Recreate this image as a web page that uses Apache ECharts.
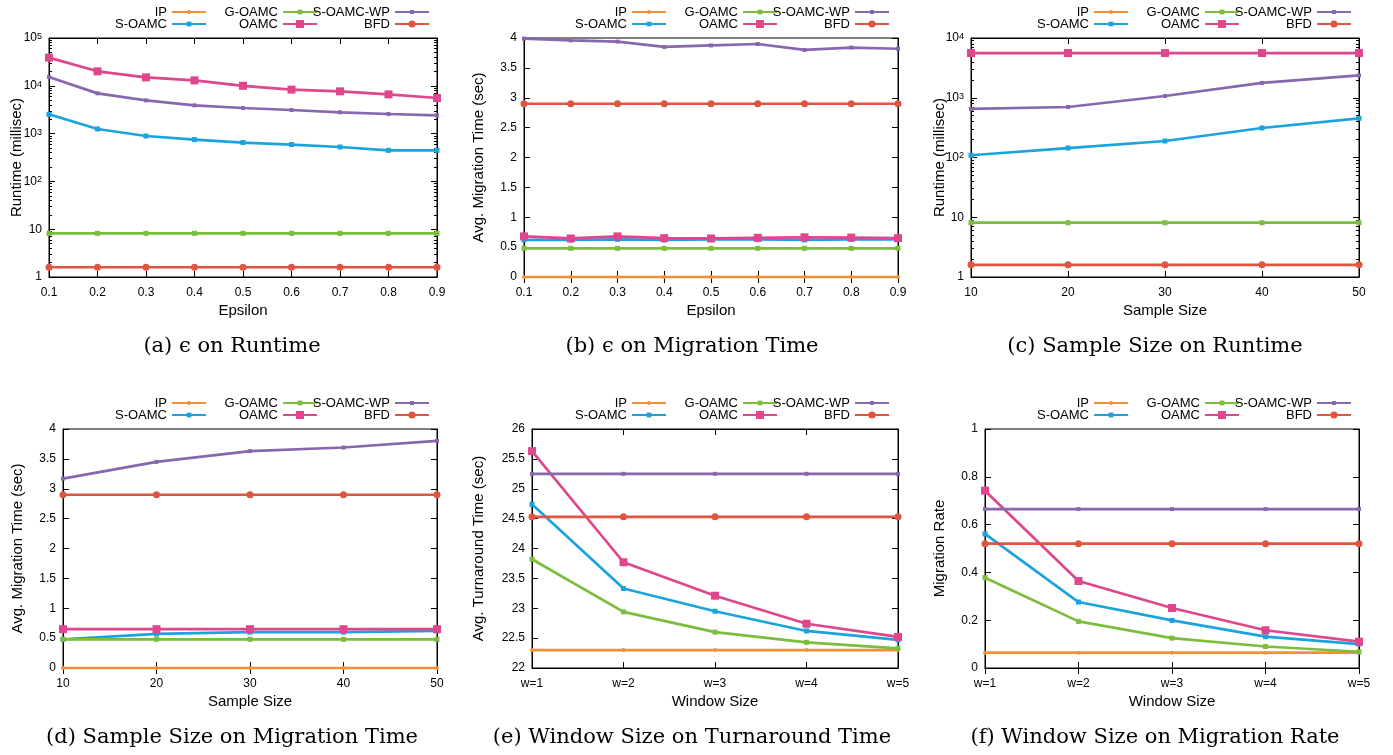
<!DOCTYPE html>
<html>
<head>
<meta charset="utf-8">
<script src="https://cdn.jsdelivr.net/npm/echarts@6/dist/echarts.min.js"></script>
<style>
  html, body { margin: 0; padding: 0; background: #fff; }
  #chart { width: 1393px; height: 755px; }
</style>
</head>
<body>
<div id="chart"></div>
<script>
// categories
const epsilon = ['0.1', '0.2', '0.3', '0.4', '0.5', '0.6', '0.7', '0.8', '0.9'];
const sampleSize = ['10', '20', '30', '40', '50'];
const windowSize = ['w=1', 'w=2', 'w=3', 'w=4', 'w=5'];

// (a) epsilon on runtime (millisec, log scale) - IP is not drawn here
const rtEpsIP = [null, null, null, null, null, null, null, null, null];
const rtEpsSOAMC = [2530, 1250, 890, 750, 650, 590, 525, 446, 446];
const rtEpsGOAMC = [8.2, 8.2, 8.2, 8.2, 8.2, 8.2, 8.2, 8.2, 8.2];
const rtEpsOAMC = [38800, 20100, 15000, 13000, 10000, 8330, 7660, 6620, 5560];
const rtEpsSOAMCWP = [15300, 6950, 4960, 3900, 3430, 3120, 2790, 2570, 2410];
const rtEpsBFD = [1.6, 1.6, 1.6, 1.6, 1.6, 1.6, 1.6, 1.6, 1.6];

// (b) epsilon on migration time (sec)
const mtEpsIP = [0, 0, 0, 0, 0, 0, 0, 0, 0];
const mtEpsSOAMC = [0.62, 0.62, 0.63, 0.62, 0.63, 0.63, 0.62, 0.63, 0.63];
const mtEpsGOAMC = [0.48, 0.48, 0.48, 0.48, 0.48, 0.48, 0.48, 0.48, 0.48];
const mtEpsOAMC = [0.68, 0.645, 0.68, 0.65, 0.645, 0.655, 0.665, 0.66, 0.65];
const mtEpsSOAMCWP = [3.99, 3.96, 3.94, 3.85, 3.875, 3.9, 3.8, 3.84, 3.82];
const mtEpsBFD = [2.9, 2.9, 2.9, 2.9, 2.9, 2.9, 2.9, 2.9, 2.9];

// (c) sample size on runtime (millisec, log scale)
const rtSmpIP = [null, null, null, null, null];
const rtSmpSOAMC = [109, 144, 189, 312, 453];
const rtSmpGOAMC = [8.1, 8.1, 8.1, 8.1, 8.1];
const rtSmpOAMC = [5600, 5600, 5600, 5600, 5600];
const rtSmpSOAMCWP = [649, 700, 1070, 1770, 2370];
const rtSmpBFD = [1.6, 1.6, 1.6, 1.6, 1.6];

// (d) sample size on migration time (sec)
const mtSmpIP = [0, 0, 0, 0, 0];
const mtSmpSOAMC = [0.48, 0.57, 0.6, 0.6, 0.62];
const mtSmpGOAMC = [0.48, 0.48, 0.48, 0.48, 0.48];
const mtSmpOAMC = [0.65, 0.65, 0.65, 0.65, 0.65];
const mtSmpSOAMCWP = [3.17, 3.45, 3.63, 3.69, 3.8];
const mtSmpBFD = [2.9, 2.9, 2.9, 2.9, 2.9];

// (e) window size on turnaround time (sec)
const ttWinIP = [22.3, 22.3, 22.3, 22.3, 22.3];
const ttWinSOAMC = [24.74, 23.33, 22.95, 22.62, 22.47];
const ttWinGOAMC = [23.82, 22.94, 22.6, 22.43, 22.33];
const ttWinOAMC = [25.63, 23.77, 23.21, 22.74, 22.52];
const ttWinSOAMCWP = [25.25, 25.25, 25.25, 25.25, 25.25];
const ttWinBFD = [24.53, 24.53, 24.53, 24.53, 24.53];

// (f) window size on migration rate
const mrWinIP = [0.064, 0.064, 0.064, 0.064, 0.064];
const mrWinSOAMC = [0.561, 0.276, 0.199, 0.131, 0.1];
const mrWinGOAMC = [0.378, 0.195, 0.125, 0.09, 0.068];
const mrWinOAMC = [0.742, 0.364, 0.251, 0.158, 0.11];
const mrWinSOAMCWP = [0.665, 0.665, 0.665, 0.665, 0.665];
const mrWinBFD = [0.52, 0.52, 0.52, 0.52, 0.52];

const FONT = '"Liberation Sans", Arial, sans-serif';

// plot order follows the key (column by column)
const names = ['IP', 'S-OAMC', 'G-OAMC', 'OAMC', 'S-OAMC-WP', 'BFD'];
const look = {
  'IP':        { color: '#f0913a', symbol: 'circle', size: 4, key: 5 },
  'S-OAMC':    { color: '#1ba3dd', symbol: 'rect',   size: 5, key: 6 },
  'G-OAMC':    { color: '#7bbd3c', symbol: 'rect',   size: 5, key: 6 },
  'OAMC':      { color: '#e0468b', symbol: 'rect',   size: 8, key: 10 },
  'S-OAMC-WP': { color: '#8767ae', symbol: 'rect',   size: 4, key: 5 },
  'BFD':       { color: '#e0553f', symbol: 'circle', size: 7, key: 9 }
};
// key slots: [column, row]
const keySlot = { 'IP': [0, 0], 'S-OAMC': [0, 1], 'G-OAMC': [1, 0], 'OAMC': [1, 1], 'S-OAMC-WP': [2, 0], 'BFD': [2, 1] };

const panels = [
  { cats: epsilon, xName: 'Epsilon', yName: 'Runtime (millisec)', log: true, max: 1e5,
    grid: [49, 38, 388], nameGap: 25, ox: 0, oy: 0, caption: '(a) \u03f5 on Runtime', cx: 232,
    data: [rtEpsIP, rtEpsSOAMC, rtEpsGOAMC, rtEpsOAMC, rtEpsSOAMCWP, rtEpsBFD] },
  { cats: epsilon, xName: 'Epsilon', yName: 'Avg. Migration Time (sec)', min: 0, max: 4, interval: 0.5,
    grid: [524, 38, 374], nameGap: 38, ox: 460, oy: 0, caption: '(b) \u03f5 on Migration Time', cx: 692,
    data: [mtEpsIP, mtEpsSOAMC, mtEpsGOAMC, mtEpsOAMC, mtEpsSOAMCWP, mtEpsBFD] },
  { cats: sampleSize, xName: 'Sample Size', yName: 'Runtime (millisec)', log: true, max: 1e4,
    grid: [971, 38, 388], nameGap: 24, ox: 922, oy: 0, caption: '(c) Sample Size on Runtime', cx: 1155,
    data: [rtSmpIP, rtSmpSOAMC, rtSmpGOAMC, rtSmpOAMC, rtSmpSOAMCWP, rtSmpBFD] },
  { cats: sampleSize, xName: 'Sample Size', yName: 'Avg. Migration Time (sec)', min: 0, max: 4, interval: 0.5,
    grid: [63, 429, 374], nameGap: 38, ox: 0, oy: 391, caption: '(d) Sample Size on Migration Time', cx: 232,
    data: [mtSmpIP, mtSmpSOAMC, mtSmpGOAMC, mtSmpOAMC, mtSmpSOAMCWP, mtSmpBFD] },
  { cats: windowSize, xName: 'Window Size', yName: 'Avg. Turnaround Time (sec)', min: 22, max: 26, interval: 0.5,
    grid: [532, 429, 366], nameGap: 46, ox: 460, oy: 391, caption: '(e) Window Size on Turnaround Time', cx: 692,
    data: [ttWinIP, ttWinSOAMC, ttWinGOAMC, ttWinOAMC, ttWinSOAMCWP, ttWinBFD] },
  { cats: windowSize, xName: 'Window Size', yName: 'Migration Rate', min: 0, max: 1, interval: 0.2,
    grid: [985, 429, 374], nameGap: 38, ox: 922, oy: 391, caption: '(f) Window Size on Migration Rate', cx: 1155,
    data: [mrWinIP, mrWinSOAMC, mrWinGOAMC, mrWinOAMC, mrWinSOAMCWP, mrWinBFD] }
];

function logLabel(v) {
  const e = Math.round(Math.log10(v));
  if (e === 0) return '1';
  if (e === 1) return '10';
  return '10{sup|' + e + '}';
}

const grids = [], xAxes = [], yAxes = [], series = [], legends = [], texts = [];
const tick = { show: true, inside: true, length: 6, lineStyle: { color: '#000', width: 1 } };
const line = { show: true, lineStyle: { color: '#000', width: 1 } };

panels.forEach((p, i) => {
  grids.push({ left: p.grid[0], top: p.grid[1], width: p.grid[2], height: 239,
    show: true, borderColor: '#000', borderWidth: 1, backgroundColor: 'transparent' });

  xAxes.push({
    gridIndex: i, type: 'category', data: p.cats, boundaryGap: false, position: 'bottom',
    axisLine: line, axisTick: tick, splitLine: { show: false },
    axisLabel: { color: '#000', fontSize: 12, fontFamily: FONT, margin: 10, interval: 0 },
    name: p.xName, nameLocation: 'middle', nameGap: 26, nameMoveOverlap: false,
    nameTextStyle: { color: '#000', fontSize: 15, fontFamily: FONT }
  });
  xAxes.push({
    gridIndex: i, type: 'category', data: p.cats, boundaryGap: false, position: 'top',
    axisLine: line, axisTick: tick, axisLabel: { show: false }, splitLine: { show: false }
  });

  const yBase = p.log
    ? { type: 'log', logBase: 10, min: 1, max: p.max,
        minorTick: { show: true, splitNumber: 9, length: 3, lineStyle: { color: '#000' } } }
    : { type: 'value', min: p.min, max: p.max, interval: p.interval };
  yAxes.push(Object.assign({}, yBase, {
    gridIndex: i, position: 'left',
    axisLine: line, axisTick: tick, splitLine: { show: false },
    axisLabel: {
      color: '#000', fontSize: 12, fontFamily: FONT, margin: 7,
      formatter: p.log ? logLabel : null,
      rich: { sup: { fontSize: 9, fontFamily: FONT, color: '#000', verticalAlign: 'top', lineHeight: 9 } }
    },
    name: p.yName, nameLocation: 'middle', nameGap: p.nameGap, nameMoveOverlap: false,
    nameTextStyle: { color: '#000', fontSize: 15, fontFamily: FONT }
  }));
  yAxes.push(Object.assign({}, yBase, {
    gridIndex: i, position: 'right',
    axisLine: line, axisTick: tick, axisLabel: { show: false }, splitLine: { show: false }
  }));

  names.forEach((n, k) => {
    const s = look[n];
    series.push({
      type: 'line', name: n, xAxisIndex: 2 * i, yAxisIndex: 2 * i,
      data: p.data[k], symbol: s.symbol, symbolSize: s.size, showSymbol: true,
      lineStyle: { width: 2.7, color: s.color }, itemStyle: { color: s.color },
      clip: false, connectNulls: false
    });

    const slot = keySlot[n];
    const iconRight = p.ox + [207, 318, 430][slot[0]];
    const cy = p.oy + [11.5, 23.5][slot[1]];
    legends.push({
      data: [n], orient: 'horizontal', align: 'right', padding: 0, selectedMode: false,
      right: 1393 - iconRight, top: cy - 6,
      itemWidth: 34, itemHeight: s.key,
      textStyle: { color: '#000', fontSize: 13, fontFamily: FONT }
    });
  });

  texts.push({
    type: 'text', x: p.cx, y: p.oy + 347,
    style: { text: p.caption, fill: '#000', font: '21px "DejaVu Serif", serif',
      textAlign: 'center', textVerticalAlign: 'middle' }
  });
});

const chart = echarts.init(document.getElementById('chart'));
chart.setOption({
  animation: false,
  grid: grids,
  xAxis: xAxes,
  yAxis: yAxes,
  legend: legends,
  series: series,
  graphic: texts
});
</script>
</body>
</html>
